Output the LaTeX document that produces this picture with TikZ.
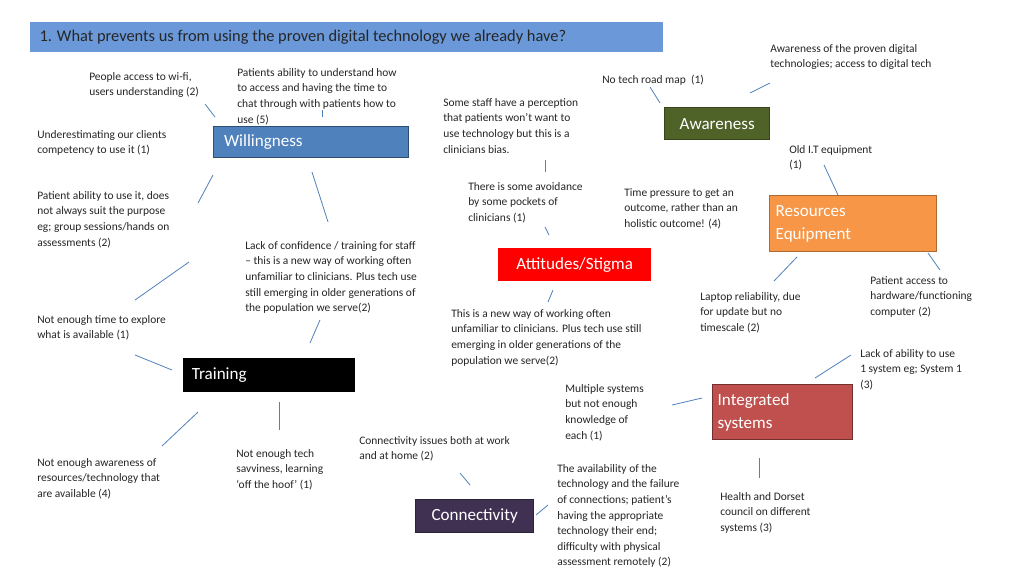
\documentclass[tikz,border=0pt]{standalone}
\usepackage{fontspec}
\setmainfont{Carlito}
\definecolor{hdrc}{HTML}{6A98D8}
\definecolor{willc}{HTML}{4F81BD}
\definecolor{awac}{HTML}{4F6228}
\definecolor{resc}{HTML}{F79646}
\definecolor{intc}{HTML}{C0504D}
\definecolor{conc}{HTML}{403152}
\definecolor{lnkc}{HTML}{4F81BD}
\begin{document}
\begin{tikzpicture}[x=0.75pt,y=-0.75pt,
  txt/.style={anchor=north west,inner sep=0pt,align=left,font=\fontsize{8.6}{11.7}\selectfont,text=black!85},
  cat/.style={anchor=north west,inner sep=0pt,draw,line width=1pt,font=\fontsize{12.8}{17}\selectfont,text=white},
  lnk/.style={draw=lnkc,line width=0.6pt}]
\useasboundingbox (0,0) rectangle (1024,576);
\fill[white] (0,0) rectangle (1024,576);
% header
\node[anchor=north west,inner sep=0pt,fill=hdrc,minimum width=633*0.75pt,minimum height=30*0.75pt,text width=625*0.75pt,align=flush left,font=\fontsize{12.3}{14}\selectfont,text=black!85] (hdr) at (30,22) {\hspace*{4pt}1. What prevents us from using the proven digital technology we already have?};
% category boxes
\node[cat,fill=willc,draw=willc!60!black,minimum width=195*0.75pt,minimum height=31*0.75pt,text width=185*0.75pt,align=left] (will) at (213,126) {\hspace*{4pt}Willingness};
\node[cat,fill=awac,draw=awac!70!black,minimum width=105*0.75pt,minimum height=32*0.75pt,align=center] (awa) at (664,107) {Awareness};
\node[cat,fill=resc,draw=resc!70!black,minimum width=167*0.75pt,minimum height=56*0.75pt,text width=155*0.75pt,align=left] (res) at (769,195) {Resources\\Equipment};
\node[cat,fill=red,draw=red,minimum width=152*0.75pt,minimum height=32*0.75pt,align=center] (att) at (498,248) {Attitudes/Stigma};
\node[cat,fill=black,draw=black,minimum width=171*0.75pt,minimum height=33*0.75pt,text width=160*0.75pt,align=left] (tra) at (183,358) {\hspace*{2pt}Training};
\node[cat,fill=intc,draw=intc!60!black,minimum width=140*0.75pt,minimum height=55*0.75pt,text width=130*0.75pt,align=left] (int) at (712,384) {Integrated\\systems};
\node[cat,fill=conc,draw=conc!70!black,minimum width=118*0.75pt,minimum height=33*0.75pt,align=center] (con) at (415,499) {Connectivity};
% texts
\node[txt] (t1) at (770,44) {Awareness of the proven digital\\technologies; access to digital tech};
\node[txt] (t2) at (89,72) {People access to wi-fi,\\users understanding (2)};
\node[txt] (t3) at (237,68) {Patients ability to understand how\\to access and having the time to\\chat through with patients how to\\use (5)};
\node[txt] (t4) at (602,75) {No tech road map \ (1)};
\node[txt] (t5) at (443,98) {Some staff have a perception\\that patients won’t want to\\use technology but this is a\\clinicians bias.};
\node[txt] (t6) at (37,130) {Underestimating our clients\\competency to use it (1)};
\node[txt] (t7) at (789,145) {Old I.T equipment\\(1)};
\node[txt] (t8) at (468,182) {There is some avoidance\\by some pockets of\\clinicians (1)};
\node[txt] (t9) at (624,188) {Time pressure to get an\\outcome, rather than an\\holistic outcome! (4)};
\node[txt] (t10) at (37,191) {Patient ability to use it, does\\not always suit the purpose\\eg; group sessions/hands on\\assessments (2)};
\node[txt] (t11) at (245,241) {Lack of confidence / training for staff\\– this is a new way of working often\\unfamiliar to clinicians. Plus tech use\\still emerging in older generations of\\the population we serve(2)};
\node[txt] (t12) at (870,276) {Patient access to\\hardware/functioning\\computer (2)};
\node[txt] (t13) at (700,292) {Laptop reliability, due\\for update but no\\timescale (2)};
\node[txt] (t14) at (451,309) {This is a new way of working often\\unfamiliar to clinicians. Plus tech use still\\emerging in older generations of the\\population we serve(2)};
\node[txt] (t15) at (37,315) {Not enough time to explore\\what is available (1)};
\node[txt] (t16) at (860,349) {Lack of ability to use\\1 system eg; System 1\\(3)};
\node[txt] (t17) at (565,384) {Multiple systems\\but not enough\\knowledge of\\each (1)};
\node[txt] (t18) at (359,436) {Connectivity issues both at work\\and at home (2)};
\node[txt] (t19) at (236,449) {Not enough tech\\savviness, learning\\‘off the hoof’ (1)};
\node[txt] (t20) at (37,458) {Not enough awareness of\\resources/technology that\\are available (4)};
\node[txt] (t21) at (557,464) {The availability of the\\technology and the failure\\of connections; patient's\\having the appropriate\\technology their end;\\difficulty with physical\\assessment remotely (2)};
\node[txt] (t22) at (720,492) {Health and Dorset\\council on different\\systems (3)};
% links
\draw[lnk] (205,104)--(215,117);
\draw[lnk] (322,110)--(322,117);
\draw[lnk] (650,87)--(660,103);
\draw[lnk] (750,93)--(770,83);
\draw[lnk] (824,165)--(838,195);
\draw[lnk] (545,160)--(545,172);
\draw[lnk] (545,227)--(549,235);
\draw[lnk] (213,175)--(198,203);
\draw[lnk] (312,172)--(328,222);
\draw[lnk] (189,262)--(135,300);
\draw[lnk] (553,290)--(548,302);
\draw[lnk] (797,257)--(774,281);
\draw[lnk] (928,253)--(940,270);
\draw[lnk] (320,320)--(310,343);
\draw[lnk] (135,355)--(172,370);
\draw[lnk] (279,402)--(279,430);
\draw[lnk] (198,412)--(162,446);
\draw[lnk] (702,398)--(672,405);
\draw[lnk] (851,355)--(815,378);
\draw[lnk] (460,473)--(470,485);
\draw[lnk] (759,458)--(759,478);
\draw[lnk] (548,505)--(536,515);
\end{tikzpicture}
\end{document}
